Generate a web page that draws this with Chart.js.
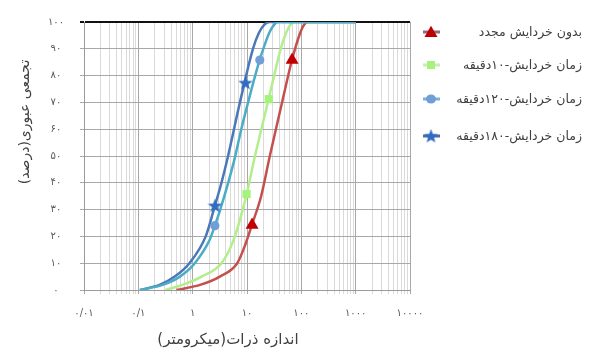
<!DOCTYPE html>
<html><head><meta charset="utf-8">
<script src="https://cdn.jsdelivr.net/npm/chart.js@4.4.1/dist/chart.umd.min.js"></script>
<style>html,body{margin:0;padding:0;background:#fff;}#wrap{width:591px;height:354px;position:relative;}</style>
</head><body><div id="wrap"><canvas id="c" width="591" height="354"></canvas></div>
<script>
// ---- texts ----
const seriesNames = ['بدون خردایش مجدد','زمان خردایش-۱۰دقیقه','زمان خردایش-۱۲۰دقیقه','زمان خردایش-۱۸۰دقیقه'];
const xTitle = 'اندازه ذرات(میکرومتر)';
const yTitle = 'تجمعی عبوری(درصد)';
const xDecades = [0.01, 0.1, 1, 10, 100, 1000, 10000];
const xTickLabels = ['۰/۰۱','۰/۱','۱','۱۰','۱۰۰','۱۰۰۰','۱۰۰۰۰'];
const yTickValues = [0,10,20,30,40,50,60,70,80,90,100];
const yTickLabels = ['۰','۱۰','۲۰','۳۰','۴۰','۵۰','۶۰','۷۰','۸۰','۹۰','۱۰۰'];

// ---- curves (particle size um, cumulative %) ----
const redX = [0.501,1.413,3.162,6.607,9.333,12.42,18.2,26.3,43.65,67.6,95.5,112.2,131.8,1000];
const redY = [0,2,5,10,17,24.5,35,50,69.5,86,96,99,100,100];
const greenX = [0.316,0.668,1.459,3.388,5.623,9.772,13.49,23.82,31.62,41.69,52.48,63.1,75.86,1000];
const greenY = [0,2,5,10,18.5,35.5,48.5,69.5,80,90,96,99,100,100];
const tealX = [0.107,0.288,0.582,1.096,2.089,2.559,3.162,5.754,7.852,10.47,14.13,17.18,19.95,25.7,31.62,37.15,1000];
const tealY = [0,2,5,10,19,24,29.5,48,60,70,80,86,90,96,99,100,100];
const blueX = [0.107,0.251,0.468,0.871,1.738,2.57,3.388,4.365,7.413,12.88,16.6,20.89,26.3,1000];
const blueY = [0,2,5,10,20,31.5,40,49,70,90,96,99,100,100];

// ---- markers ----
const redMarkX = [12.4, 67.6];  const redMarkY = [24.3, 85.8];
const greenMarkX = [9.8, 25.1]; const greenMarkY = [35.8, 71.2];
const circMarkX = [2.56, 17.2]; const circMarkY = [24.0, 85.8];
const starMarkX = [2.57, 9.38]; const starMarkY = [31.5, 77.3];

const pts = (xs, ys) => xs.map((x, i) => ({x, y: ys[i]}));
const isDecade = v => Math.abs(Math.log10(v) - Math.round(Math.log10(v))) < 1e-6;

const gridValues = [];
xDecades.forEach((d, i) => {
  if (i === xDecades.length - 1) { gridValues.push(d); return; }
  for (let k = 1; k <= 9; k++) gridValues.push(+(d * k).toPrecision(6));
});

function makeStar(color, size) {
  const c = document.createElement('canvas'); c.width = c.height = size;
  const g = c.getContext('2d'); const cx = size / 2, cy = size / 2 + 0.5, R = size / 2, r = R * 0.42;
  g.beginPath();
  for (let i = 0; i < 10; i++) {
    const a = -Math.PI / 2 + i * Math.PI / 5; const rad = i % 2 ? r : R;
    g.lineTo(cx + rad * Math.cos(a), cy + rad * Math.sin(a));
  }
  g.closePath(); g.fillStyle = color; g.fill(); return c;
}
const starColor = '#2f6cc4';
const starImg = makeStar(starColor, 15);

const lineCol = ['#c4504e', '#b4ee8c', '#4bacc6', '#4a78b8'];
const markCol = ['#c00000', '#a4f47c', '#6f9fd6', starColor];
const legLineCol = ['#8e6c7e', '#cfe9bb', '#7ab0dc', '#4d6f9f'];

const FONT = 'DejaVu Sans';

const overlay = {
  id: 'overlay',
  afterDraw(chart) {
    const ctx = chart.ctx;
    ctx.save();
    ctx.fillStyle = '#404040';
    ctx.textBaseline = 'middle';
    // axis titles
    ctx.font = '15px "' + FONT + '"';
    ctx.textAlign = 'center';
    ctx.fillText(xTitle, 228, 340);
    ctx.save();
    ctx.translate(25, 122);
    ctx.rotate(-Math.PI / 2);
    ctx.font = '14px "' + FONT + '"';
    ctx.fillText(yTitle, 0, 0);
    ctx.restore();
    // legend
    const rows = [32, 65, 99, 136];
    ctx.font = '12.5px "' + FONT + '"';
    ctx.direction = 'rtl';
    ctx.textAlign = 'right';
    rows.forEach((y, i) => {
      ctx.strokeStyle = legLineCol[i];
      ctx.lineWidth = 3;
      ctx.beginPath(); ctx.moveTo(423, y); ctx.lineTo(440, y); ctx.stroke();
      ctx.fillStyle = markCol[i];
      const mx = 431;
      ctx.beginPath();
      if (i === 0) {
        const r = 7.5;
        ctx.moveTo(mx, y - r * 0.85); ctx.lineTo(mx + r * 0.866, y + r * 0.65); ctx.lineTo(mx - r * 0.866, y + r * 0.65); ctx.closePath(); ctx.fill();
      } else if (i === 1) {
        ctx.fillRect(mx - 4, y - 4, 8, 8);
      } else if (i === 2) {
        ctx.ellipse(mx, y, 5, 4.5, 0, 0, Math.PI * 2); ctx.fill();
      } else {
        ctx.drawImage(starImg, mx - 7.5, y - 7.5);
      }
      ctx.fillStyle = '#404040';
      ctx.fillText(seriesNames[i], 582, y + 1);
    });
    ctx.restore();
  }
};

const lineDs = (label, data, color, order) => ({
  type: 'line', label, data, borderColor: color, backgroundColor: color,
  borderWidth: 2.5, pointRadius: 0, pointHoverRadius: 0, fill: false,
  cubicInterpolationMode: 'monotone', order
});
const markDs = (label, data, color, style, radius) => ({
  type: 'scatter', label, data, showLine: false, pointStyle: style,
  pointRadius: radius, pointHoverRadius: radius, pointBackgroundColor: color,
  pointBorderColor: color, pointBorderWidth: 0, order: 0
});

new Chart(document.getElementById('c'), {
  type: 'line',
  data: {
    datasets: [
      lineDs(seriesNames[0], pts(redX, redY), lineCol[0], 5),
      lineDs(seriesNames[1], pts(greenX, greenY), lineCol[1], 4),
      lineDs(seriesNames[3], pts(blueX, blueY), lineCol[3], 3),
      lineDs(seriesNames[2], pts(tealX, tealY), lineCol[2], 2),
      markDs(seriesNames[0], pts(redMarkX, redMarkY), markCol[0], 'triangle', 7.5),
      markDs(seriesNames[1], pts(greenMarkX, greenMarkY), markCol[1], 'rect', 5.8),
      markDs(seriesNames[2], pts(circMarkX, circMarkY), markCol[2], 'circle', 4.6),
      markDs(seriesNames[3], pts(starMarkX, starMarkY), starColor, starImg, 7)
    ]
  },
  options: {
    responsive: false, animation: false, parsing: true,
    layout: { padding: { top: 16, right: 181, left: 0, bottom: 0 } },
    plugins: { legend: { display: false }, tooltip: { enabled: false } },
    scales: {
      x: {
        type: 'logarithmic', min: 0.01, max: 10000,
        afterBuildTicks: s => { s.ticks = gridValues.map(v => ({ value: v })); },
        afterFit: s => { s.height = 64; },
        grid: {
          color: c => (c.tick && isDecade(c.tick.value)) ? '#a8a8a8' : '#dadada',
          lineWidth: 1, tickLength: 4, drawTicks: true
        },
        border: { display: true, color: '#9a9a9a', width: 1 },
        ticks: {
          autoSkip: false, maxRotation: 0, minRotation: 0, padding: 13,
          font: { family: FONT, size: 10 }, color: '#595959',
          callback: (v) => { const i = xDecades.findIndex(d => Math.abs(d - v) / d < 1e-6); return i >= 0 ? xTickLabels[i] : ''; }
        }
      },
      y: {
        type: 'linear', min: 0, max: 100,
        afterBuildTicks: s => { s.ticks = yTickValues.map(v => ({ value: v })); },
        afterFit: s => { s.width = 84; },
        grid: {
          color: c => (c.tick && c.tick.value === 100) ? '#111111' : '#a8a8a8',
          lineWidth: c => (c.tick && c.tick.value === 100) ? 2 : 1,
          tickLength: 4, drawTicks: true
        },
        border: { display: true, color: '#9a9a9a', width: 1 },
        ticks: {
          crossAlign: 'center', padding: 16,
          font: { family: FONT, size: 10 }, color: '#595959',
          callback: (v) => { const i = yTickValues.indexOf(v); return i >= 0 ? yTickLabels[i] : ''; }
        }
      }
    }
  },
  plugins: [overlay]
});
</script></body></html>
